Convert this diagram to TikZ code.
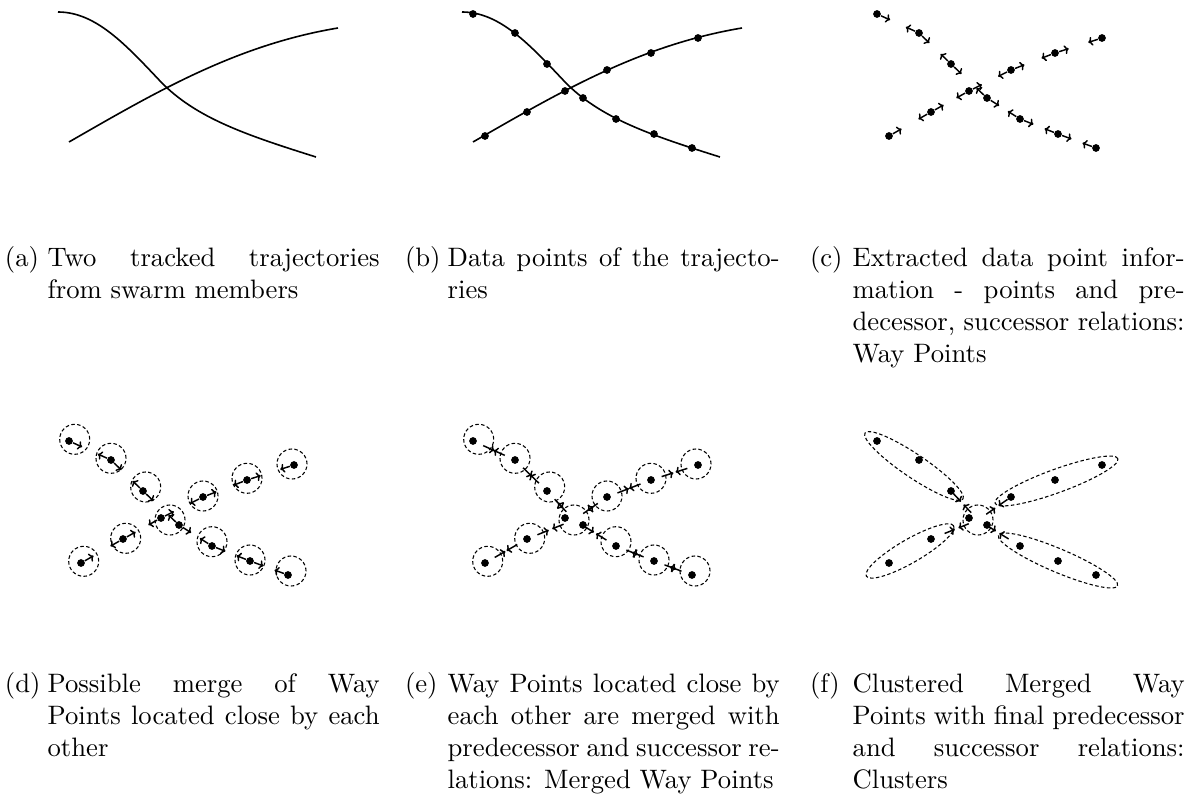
\documentclass[tikz,border=0pt]{standalone}
\usetikzlibrary{calc,shapes.geometric,arrows.meta}
\newlength\captw \setlength\captw{124.5pt}
\newlength\caplw \setlength\caplw{16pt}
\newcommand\capj[1]{\hbox to\captw{#1}}
\newcommand\capl[1]{\hbox{#1}}
\newcommand\captxt[2]{\hbox to\caplw{#1\hfil}\vtop{\baselineskip=12pt #2}}
\newcommand\ptcoords[1]{%
 \coordinate (#1s1) at (462,12);
 \coordinate (#1p1) at (473,14);
 \coordinate (#1p2) at (515,33);
 \coordinate (#1p3) at (547,64);
 \coordinate (#1p4) at (583,98);
 \coordinate (#1p5) at (616,119);
 \coordinate (#1p6) at (654,134);
 \coordinate (#1p7) at (692,148);
 \coordinate (#1e1) at (720,157);
 \coordinate (#1s2) at (473,142);
 \coordinate (#1q1) at (485,136);
 \coordinate (#1q2) at (527,112);
 \coordinate (#1q3) at (565,91);
 \coordinate (#1q4) at (607,70);
 \coordinate (#1q5) at (651,53);
 \coordinate (#1q6) at (698,38);
 \coordinate (#1e2) at (742,28);
 \coordinate (#1M) at ($(#1p4)!0.5!(#1q3)+(0,-1.5)$);
}
\newcommand\ptdots[1]{\foreach \n in {p1,p2,p3,p4,p5,p6,p7,q1,q2,q3,q4,q5,q6}{\node[wpdot] (#1\n d) at (#1\n) {};}}
\newcommand\trajcurves[1]{%
 \draw[traj] (#1s1) .. controls +(38,0) and +(-35,-37) .. ($(#1s1)!0.5!(#1e1)+(-26,-2.5)$)
   .. controls +(35,36) and +(-70,-22) .. (#1e1);
 \draw[traj] (#1s2) .. controls +(87,-50) and +(-102,17) .. (#1e2);
}
\newcommand\wparrows[1]{%
 \foreach \wa/\wb in {p1/p2,p2/p3,p3/p4,p4/p5,p5/p6,p6/p7,q1/q2,q2/q3,q3/q4,q4/q5,q5/q6}{%
  \draw[arr] (#1\wa d) -- ($(#1\wa)!5.4pt!(#1\wb)$);
  \draw[arr] (#1\wb d) -- ($(#1\wb)!5.4pt!(#1\wa)$);
 }}
\newcommand\wpcircles[1]{%
 \foreach \n/\ox/\oy in {p1/5.7/-1.7,p2/0/-1.7,p3/2.7/-4,p5/0/-4.3,p6/0/-1,p7/3/-4,q1/2.7/-1.7,q2/2.7/-0.7,q4/0/-1,q5/0/-1.7,q6/-2/-1}{%
  \node[wpc] (#1c\n) at ($(#1\n)+(\ox,\oy)$) {};}
 \node[wpc] (#1cM) at (#1M) {};
}
\newcommand\mergedarrows[1]{%
 \foreach \wa/\wb in {p1/p2,p2/p3,p3/M,M/p5,p5/p6,p6/p7,q1/q2,q2/M,M/q4,q4/q5,q5/q6}{%
  \draw[arr] ($(#1\wa)!4.2pt!(#1\wb)$) -- ($(#1\wa)!8.8pt!(#1\wb)$);
  \draw[arr] ($(#1\wb)!4.2pt!(#1\wa)$) -- ($(#1\wb)!8.8pt!(#1\wa)$);
 }}
\begin{document}
\begin{tikzpicture}[x=0.375pt,y=-0.375pt,
  wpdot/.style={circle,fill=black,inner sep=0pt,minimum size=2.9pt},
  traj/.style={line width=0.6pt},
  arr/.style={-{To[length=1.6pt,width=3.4pt]},line width=0.55pt},
  wpdash/.style={dash pattern=on 1.3pt off 0.9pt,line width=0.4pt},
  wpc/.style={wpdash,draw,circle,inner sep=0pt,minimum size=11.25pt},
  clu/.style={wpdash,draw,ellipse,inner sep=0pt,minimum height=8.8pt},
  captext/.style={inner sep=0pt,outer sep=0pt,anchor=base west}]
\useasboundingbox (0,0) rectangle (1199,798);

% (a)
\begin{scope}[shift={(-404,0)}]
 \ptcoords{a}
 \trajcurves{a}
\end{scope}
% (b)
\begin{scope}
 \ptcoords{b}
 \trajcurves{b}
 \ptdots{b}
\end{scope}
% (c)
\begin{scope}[shift={(404,0)}]
 \ptcoords{c}
 \ptdots{c}
 \wparrows{c}
\end{scope}
% (d)
\begin{scope}[shift={(-404,427)}]
 \ptcoords{d}
 \ptdots{d}
 \wparrows{d}
 \wpcircles{d}
\end{scope}
% (e)
\begin{scope}[shift={(0,427)}]
 \ptcoords{e}
 \ptdots{e}
 \wpcircles{e}
 \mergedarrows{e}
\end{scope}
% (f)
\begin{scope}[shift={(404,427)}]
 \ptcoords{f}
 \ptdots{f}
 \node[clu,minimum width=44.3pt,rotate=-34] (fUL) at ($(fp1)!0.5!(fp3)$) {};
 \node[clu,minimum width=49pt,rotate=20] (fUR) at ($(fq4)!0.5!(fq6)$) {};
 \node[clu,minimum width=48.5pt,rotate=-23] (fLR) at ($(fp5)!0.5!(fp7)$) {};
 \node[clu,minimum width=37.8pt,rotate=30] (fLL) at ($(fq1)!0.5!(fq2)$) {};
 \node[wpc] (fcM) at (fM) {};
 \foreach \n in {p3,q4,p5,q2}{%
  \draw[arr] ($(fM)!13.5pt!(f\n)$) -- ($(fM)!9.4pt!(f\n)$);
  \draw[arr] ($(fM)!3.75pt!(f\n)$) -- ($(fM)!7.9pt!(f\n)$);
 }
\end{scope}

% captions
\node[captext] (capa) at (5,267) {\captxt{(a)}{\capj{Two tracked trajectories}\capl{from swarm members}}};
\node[captext] (capb) at (405,267) {\captxt{(b)}{\capj{Data points of the trajecto-}\capl{ries}}};
\node[captext] (capc) at (810,267) {\captxt{(c)}{\capj{Extracted data point infor-}\capj{mation - points and pre-}\capj{decessor, successor relations:}\capl{Way Points}}};
\node[captext] (capd) at (5,693) {\captxt{(d)}{\capj{Possible merge of Way}\capj{Points located close by each}\capl{other}}};
\node[captext] (cape) at (405,693) {\captxt{(e)}{\capj{Way Points located close by}\capj{each other are merged with}\capj{predecessor and successor re-}\capl{lations: Merged Way Points}}};
\node[captext] (capf) at (810,693) {\captxt{(f)}{\capj{Clustered Merged Way}\capj{Points with final predecessor}\capj{and successor relations:}\capl{Clusters}}};
\end{tikzpicture}
\end{document}
